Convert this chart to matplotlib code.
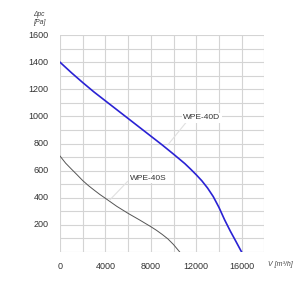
import matplotlib
matplotlib.use("Agg")
import matplotlib.pyplot as plt
import numpy as np

# Data
flow_40d = [0, 1000, 2000, 3000, 4000, 5000, 6000, 7000, 8000, 9000, 10000, 11000,
            11500, 12000, 12500, 13000, 13500, 14000, 14500, 15000, 15500, 16000]
press_40d = [1400, 1323, 1250, 1180, 1115, 1050, 985, 920, 855, 790, 722, 652,
             612, 570, 525, 472, 409, 330, 238, 155, 78, 0]
flow_40s = [0, 500, 1000, 1500, 2000, 2500, 3000, 3500, 4000, 5000, 6000, 7000,
            8000, 8500, 9000, 9500, 10000, 10550]
press_40s = [708, 655, 612, 570, 527, 490, 457, 425, 396, 337, 285, 237,
             187, 160, 130, 97, 55, 0]
x_ticks = [0, 4000, 8000, 12000, 16000]
y_ticks = [200, 400, 600, 800, 1000, 1200, 1400, 1600]

plt.rcParams['font.family'] = ['Liberation Sans', 'DejaVu Sans']

fig = plt.figure(figsize=(3, 3), dpi=100)
ax = fig.add_axes([0.2, 0.16, 0.681, 0.723])

ax.set_xlim(0, 18000)
ax.set_ylim(0, 1600)
ax.set_xticks(np.arange(0, 18001, 2000))
ax.set_yticks(np.arange(0, 1601, 100))
ax.grid(True, color='#d4d4d4', linewidth=0.8)
ax.set_axisbelow(True)
for s in ax.spines.values():
    s.set_visible(False)
ax.set_xticklabels([])
ax.set_yticklabels([])
ax.tick_params(which='both', length=0)

for t in x_ticks:
    ax.text(t, -75, str(t), ha='center', va='top', fontsize=6.5, color='#333333')
for t in y_ticks:
    ax.text(-1000, t, str(t), ha='right', va='center', fontsize=6.5, color='#333333')

ax.plot(flow_40d, press_40d, color='#2a22d4', linewidth=1.2, solid_joinstyle='round')
ax.plot(flow_40s, press_40s, color='#555555', linewidth=0.7, solid_joinstyle='round')

# leaders
ax.plot([9500, 11150], [790, 960], color='#e0e0e0', linewidth=0.8)
ax.plot([4400, 5950], [385, 520], color='#e0e0e0', linewidth=0.8)
ax.text(12500, 990, 'WPE-40D', ha='center', va='center', fontsize=6, color='#333333',
        bbox=dict(facecolor='white', edgecolor='none', pad=1))
ax.text(7800, 545, 'WPE-40S', ha='center', va='center', fontsize=6, color='#333333',
        bbox=dict(facecolor='white', edgecolor='none', pad=1))

fig.text(0.13, 0.953, 'Δpc', fontsize=4.8, style='italic', color='#444444', ha='center', va='center')
fig.text(0.13, 0.925, '[Pa]', fontsize=5, style='italic', color='#444444', ha='center', va='center')
fig.text(0.895, 0.117, 'V [m³/h]', fontsize=5, style='italic', color='#444444', ha='left', va='center')

fig.savefig('out.png', dpi=100, facecolor='white')
